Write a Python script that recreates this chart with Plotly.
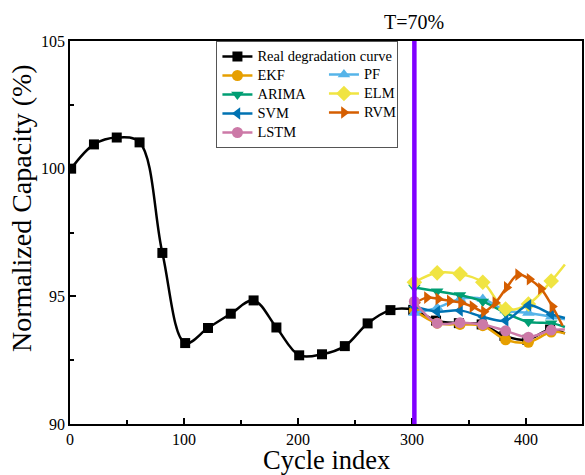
import plotly.graph_objects as go

# ---------------- data ----------------
real_cycles = [1, 21, 41, 61, 81, 101, 121, 141, 161, 181, 201, 221, 241, 261, 281, 301,
               321, 341, 361, 381, 401, 421, 434]
real_capacity = [100.0, 100.95, 101.22, 101.03, 96.7, 93.17, 93.76, 94.32, 94.84, 93.78,
                 92.69, 92.73, 93.05, 93.94, 94.46, 94.47,
                 94.05, 93.95, 93.9, 93.45, 93.3, 93.7, 93.55]

pred_cycles = [302, 322, 342, 362, 382, 402, 422, 434]
ekf = [94.45, 93.95, 93.9, 93.85, 93.3, 93.2, 93.6, 93.55]
pf = [94.35, 94.55, 94.9, 94.9, 94.45, 94.35, 94.2, 94.1]
arima = [95.35, 95.2, 95.05, 94.8, 94.35, 94.0, 93.95, 93.8]
elm = [95.55, 95.92, 95.88, 95.55, 94.5, 94.7, 95.6, 96.25]
svm = [94.6, 94.4, 94.45, 94.2, 94.05, 94.65, 94.3, 94.15]
lstm = [94.8, 93.95, 93.97, 93.9, 93.65, 93.4, 93.68, 93.7]

rvm_cycles = [303, 313, 323, 333, 343, 353, 363, 373, 383, 393, 403, 413, 423, 432]
rvm = [94.75, 94.95, 94.9, 94.82, 94.75, 94.6, 94.4, 94.75, 95.35, 95.85, 95.67, 95.3,
       94.6, 93.85]

T_CYCLE = 302
T_LABEL = "T=70%"
X_TITLE = "Cycle index"
Y_TITLE = "Normalized Capacity (%)"

x_ticks = [0, 100, 200, 300, 400]
y_ticks = [90, 95, 100, 105]

# ---------------- styling ----------------
FONT = "Liberation Serif, Times New Roman, serif"
series = [
    ("Real degradation curve", real_cycles, real_capacity, "#000000", "square", 10, "legend"),
    ("EKF", pred_cycles, ekf, "#E69F00", "circle", 11, "legend"),
    ("PF", pred_cycles, pf, "#56B4E9", "triangle-up", 11, "legend2"),
    ("ARIMA", pred_cycles, arima, "#009E73", "triangle-down", 11, "legend"),
    ("ELM", pred_cycles, elm, "#F0E442", "diamond", 12, "legend2"),
    ("SVM", pred_cycles, svm, "#0072B2", "triangle-left", 11, "legend"),
    ("RVM", rvm_cycles, rvm, "#D55E00", "triangle-right", 11, "legend2"),
    ("LSTM", pred_cycles, lstm, "#CC79A7", "circle", 11, "legend"),
]

fig = go.Figure()
for name, xs, ys, color, symbol, size, leg in series:
    # last point only continues the line, it carries no marker
    colors = [color] * (len(xs) - 1) + ["rgba(0,0,0,0)"]
    fig.add_trace(go.Scatter(
        x=xs, y=ys, name=f'<span style="font-size:14.5px">{name}</span>',
        mode="lines+markers",
        line=dict(color=color, width=2.5, shape="spline", smoothing=1),
        marker=dict(symbol=symbol, size=size, color=colors),
        legend=leg,
    ))

fig.add_vline(x=T_CYCLE, line=dict(color="#8000FF", width=4.5), layer="above")
fig.add_annotation(x=T_CYCLE, y=1, xref="x", yref="paper", text=T_LABEL,
                   showarrow=False, yanchor="bottom", yshift=6,
                   font=dict(family=FONT, size=20, color="black"))

# axis titles
fig.add_annotation(x=0.5, y=0, xref="paper", yref="paper", text=X_TITLE,
                   showarrow=False, xanchor="center", yanchor="middle", yshift=-36,
                   borderpad=0,
                   font=dict(family=FONT, size=26.5, color="black"))
fig.add_annotation(x=0, y=0.564, xref="paper", yref="paper", text=Y_TITLE,
                   showarrow=False, xanchor="center", yanchor="middle", xshift=-48,
                   textangle=-90, font=dict(family=FONT, size=28, color="black"))

axis_common = dict(
    showgrid=False, zeroline=False, showline=True, linecolor="black", linewidth=1.5,
    mirror=True, ticks="inside", ticklen=6, tickwidth=1.5, tickcolor="black",
    tickfont=dict(family=FONT, size=16, color="black"), automargin=False,
)

fig.update_xaxes(
    range=[0, 449], tickvals=x_ticks,
    minor=dict(dtick=50, tick0=0, ticks="inside", ticklen=4, tickwidth=1.5,
               tickcolor="black", showgrid=False),
    **axis_common,
)
fig.update_yaxes(
    range=[90, 105], tickvals=y_ticks,
    minor=dict(dtick=2.5, tick0=90, ticks="inside", ticklen=4, tickwidth=1.5,
               tickcolor="black", showgrid=False),
    **axis_common,
)

legend_font = dict(family=FONT, size=12, color="black")
fig.update_layout(
    width=585, height=475,
    margin=dict(l=70, r=3, t=41, b=51),
    plot_bgcolor="white", paper_bgcolor="white",
    legend=dict(x=0.286, y=1, xanchor="left", yanchor="top", bgcolor="white",
                bordercolor="#555555", borderwidth=1, font=legend_font,
                itemwidth=30, tracegroupgap=0),
    legend2=dict(x=0.496, y=1 - 19 / 383, xanchor="left", yanchor="top",
                 bgcolor="rgba(0,0,0,0)", borderwidth=0, font=legend_font,
                 itemwidth=30, tracegroupgap=0),
)

fig.write_html("out.html",
               config={"displayModeBar": False},
               post_script="document.body.style.margin='0';"
                           "document.body.style.overflow='hidden';")
